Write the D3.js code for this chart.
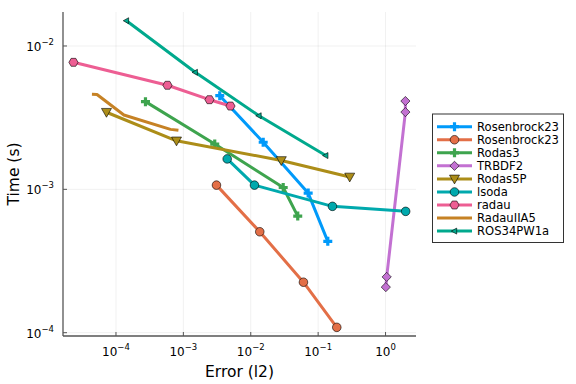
<!DOCTYPE html>
<html><head><meta charset="utf-8">
<script src="https://cdn.jsdelivr.net/npm/d3@7"></script>
<style>body{margin:0;background:#fff}svg{display:block}text{font-family:"DejaVu Sans",sans-serif}</style>
</head><body>
<svg id="c" width="576" height="384"></svg>
<script>
const seriesNames = ["Rosenbrock23","Rosenbrock23","Rodas3","TRBDF2","Rodas5P","lsoda","radau","RadauIIA5","ROS34PW1a"];
const seriesColors = ["#009AFA","#E36F47","#3EA44E","#C371D2","#AC8D18","#00A9AD","#ED5E93","#C68225","#00A98D"];
const seriesMarkers = ["cross","circle","cross","diamond","dtriangle","circle","hexagon","none","ltriangle"];
const seriesErrors = [
  [3.47e-3, 1.53e-2, 7.11e-2, 1.39e-1],
  [3.10e-3, 1.36e-2, 6.05e-2, 1.89e-1],
  [2.74e-4, 2.92e-3, 3.03e-2, 4.98e-2],
  [1.97, 1.97, 1.04, 1.01],
  [7.23e-5, 7.91e-4, 2.84e-2, 2.94e-1],
  [4.47e-3, 1.135e-2, 1.63e-1, 1.99],
  [2.34e-5, 5.81e-4, 2.44e-3, 5.00e-3],
  [4.40e-5, 5.23e-5, 1.31e-4, 6.44e-4, 8.45e-4],
  [1.43e-4, 1.50e-3, 1.324e-2, 1.297e-1]
];
const seriesTimes = [
  [4.50e-3, 2.13e-3, 9.42e-4, 4.34e-4],
  [1.07e-3, 5.06e-4, 2.25e-4, 1.09e-4],
  [4.09e-3, 2.07e-3, 1.03e-3, 6.51e-4],
  [4.13e-3, 3.46e-3, 2.45e-4, 2.08e-4],
  [3.45e-3, 2.18e-3, 1.59e-3, 1.22e-3],
  [1.63e-3, 1.07e-3, 7.61e-4, 7.02e-4],
  [7.69e-3, 5.32e-3, 4.22e-3, 3.81e-3],
  [4.60e-3, 4.59e-3, 3.30e-3, 2.62e-3, 2.58e-3],
  [1.50e-2, 6.55e-3, 3.26e-3, 1.72e-3]
];
const xTickExps = [-4,-3,-2,-1,0];
const yTickExps = [-4,-3,-2];
const xLabel = "Error (l2)";
const yLabel = "Time (s)";

const svg = d3.select("#c");
const L=63,R=416,T=12,B=336;
const x = d3.scaleLog().domain([Math.pow(10,-4.786),Math.pow(10,0.452)]).range([L,R]);
const y = d3.scaleLog().domain([Math.pow(10,-4.023),Math.pow(10,-1.763)]).range([B,T]);

// grid
const g = svg.append("g");
xTickExps.forEach(e=>{g.append("line").attr("x1",x(10**e)).attr("x2",x(10**e)).attr("y1",T).attr("y2",B).attr("stroke","#000").attr("stroke-opacity",0.1).attr("stroke-width",0.6);});
yTickExps.forEach(e=>{g.append("line").attr("y1",y(10**e)).attr("y2",y(10**e)).attr("x1",L).attr("x2",R).attr("stroke","#000").attr("stroke-opacity",0.1).attr("stroke-width",0.6);});

function markerPath(type){
  switch(type){
    case "cross": {const a=4.5,w=1.6; return `M${-w},${-a}H${w}V${-w}H${a}V${w}H${w}V${a}H${-w}V${w}H${-a}V${-w}H${-w}Z`;}
    case "circle": return d3.symbol(d3.symbolCircle, Math.PI*4.3*4.3)();
    case "diamond": {const a=4.6; return `M0,${-a}L${a},0L0,${a}L${-a},0Z`;}
    case "dtriangle": {return `M-5,-3.8L5,-3.8L0,5Z`;}
    case "hexagon": {const r=4.6; let p=""; for(let i=0;i<6;i++){const t=Math.PI/3*i; p+=(i?"L":"M")+(r*Math.cos(t)).toFixed(2)+","+(r*Math.sin(t)).toFixed(2);} return p+"Z";}
    case "ltriangle": return `M-3.2,0L2.2,-3L2.2,3Z`;
  }
  return null;
}
function drawMarker(sel,type,color,cx,cy){
  const p = markerPath(type); if(!p) return;
  const m = sel.append("path").attr("d",p).attr("transform",`translate(${cx},${cy})`).attr("fill",color);
  if(type==="cross") m.attr("stroke","none");
  else m.attr("stroke","#000").attr("stroke-width",0.6);
}

const plot = svg.append("g");
seriesNames.forEach((n,i)=>{
  const pts = seriesErrors[i].map((e,k)=>[e,seriesTimes[i][k]]);
  plot.append("path").attr("d",d3.line().x(d=>x(d[0])).y(d=>y(d[1]))(pts))
    .attr("fill","none").attr("stroke",seriesColors[i]).attr("stroke-width",3).attr("stroke-linejoin","round");
  pts.forEach(d=>drawMarker(plot,seriesMarkers[i],seriesColors[i],x(d[0]),y(d[1])));
});

// axes
const ax = svg.append("g");
ax.append("line").attr("x1",L).attr("x2",L).attr("y1",T).attr("y2",B).attr("stroke","#555").attr("stroke-width",1.3);
ax.append("line").attr("x1",L).attr("x2",R).attr("y1",B).attr("y2",B).attr("stroke","#555").attr("stroke-width",1.3);
function expLabel(e){return e<0?"\u2212"+Math.abs(e):String(e);}
xTickExps.forEach(e=>{
  const px=x(10**e);
  ax.append("line").attr("x1",px).attr("x2",px).attr("y1",B).attr("y2",B-4).attr("stroke","#555").attr("stroke-width",1);
  const t=ax.append("text").attr("x",px).attr("y",B+20).attr("text-anchor","middle").attr("font-size",12).attr("fill","#000");
  t.append("tspan").text("10");
  t.append("tspan").attr("dy",-6).attr("font-size",8.5).text(expLabel(e));
});
yTickExps.forEach(e=>{
  const py=y(10**e);
  ax.append("line").attr("x1",L).attr("x2",L+4).attr("y1",py).attr("y2",py).attr("stroke","#555").attr("stroke-width",1);
  const t=ax.append("text").attr("x",L-9).attr("y",py+5).attr("text-anchor","end").attr("font-size",12).attr("fill","#000");
  t.append("tspan").text("10");
  t.append("tspan").attr("dy",-6).attr("font-size",8.5).text(expLabel(e));
});
svg.append("text").attr("x",(L+R)/2).attr("y",377).attr("text-anchor","middle").attr("font-size",15.5).text(xLabel);
svg.append("text").attr("transform",`translate(19,${(T+B)/2}) rotate(-90)`).attr("text-anchor","middle").attr("font-size",15.5).text(yLabel);

// legend
const lg = svg.append("g");
lg.append("rect").attr("x",432.5).attr("y",114).attr("width",131).attr("height",128.5).attr("fill","#fff").attr("stroke","#333").attr("stroke-width",1);
seriesNames.forEach((n,i)=>{
  const ly = 126.7 + i*13.05;
  lg.append("line").attr("x1",437).attr("x2",472).attr("y1",ly).attr("y2",ly).attr("stroke",seriesColors[i]).attr("stroke-width",3);
  drawMarker(lg,seriesMarkers[i],seriesColors[i],454.5,ly);
  lg.append("text").attr("x",477).attr("y",ly+4.2).attr("font-size",11.6).text(n);
});
</script>
</body></html>
